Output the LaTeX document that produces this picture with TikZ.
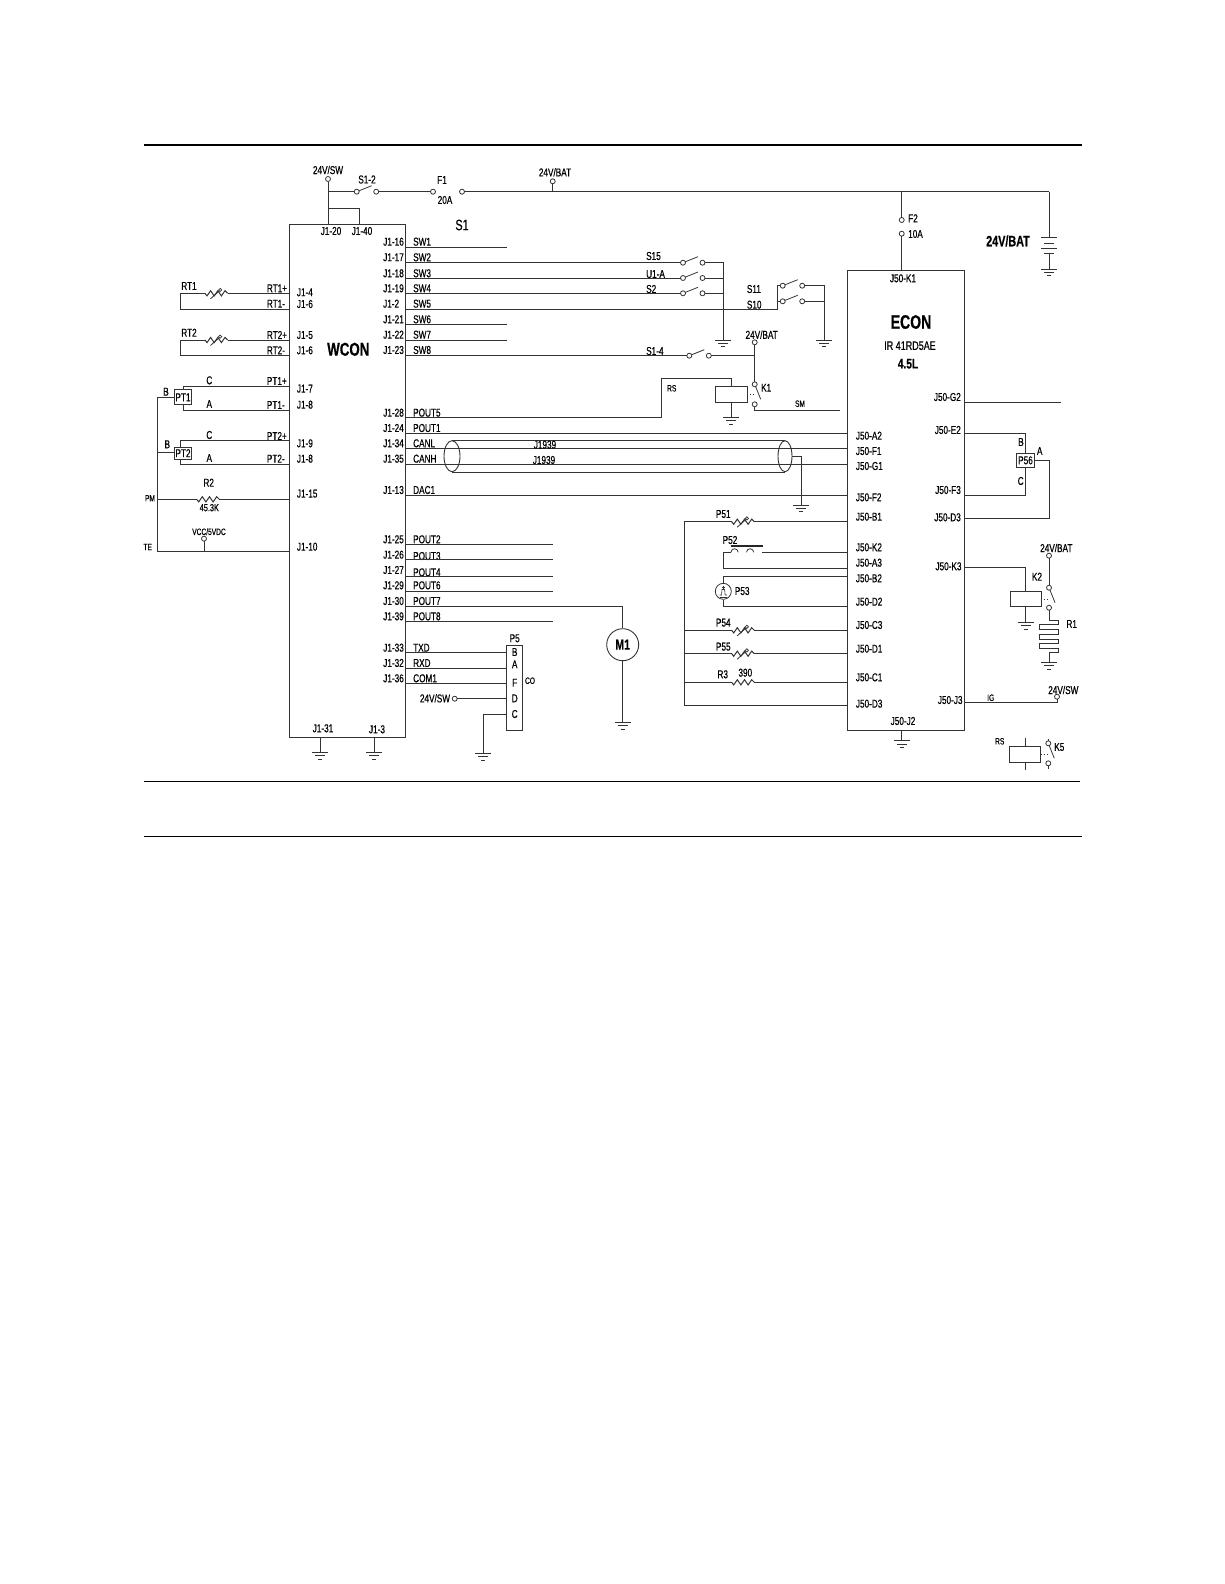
\documentclass[tikz,border=0pt]{standalone}
\usepackage{fontspec}
\usetikzlibrary{shapes.geometric}
\setmainfont{Liberation Sans}[FakeStretch=0.72,FakeBold=0.5]
\begin{document}
\begin{tikzpicture}[
       x=1pt, y=-1pt,
       ink/.style={black!80},
       wire/.style={ink, line width=1pt},
       rule/.style={black, line width=1.6pt},
       module/.style={rectangle, draw=black!80, line width=1pt, inner sep=0pt, outer sep=0pt},
       term/.style={circle, draw=black!80, line width=0.8pt, fill=white, inner sep=0pt, minimum size=5pt, outer sep=0pt},
       lbl/.style={inner sep=0pt, font=\fontsize{11.4}{13}\selectfont},
       lblsmall/.style={inner sep=0pt, font=\fontsize{9.2}{11}\selectfont},
       lblbig/.style={inner sep=0pt, font=\fontsize{15}{17}\selectfont\bfseries},
       pinl/.style={lbl, anchor=west},
       pinr/.style={lbl, anchor=east},
       gnd/.pic={
           \coordinate (-top) at (0,0);
           \draw[wire] (-8,0) -- (8,0);
           \draw[wire, line width=0.8pt] (-5,3.4) -- (5,3.4);
           \draw[wire, line width=0.8pt] (-2,6.8) -- (2,6.8);
       },
       res/.pic={
           \coordinate (-a) at (0,0);
           \coordinate (-b) at (22.6,0);
           \draw[wire] (-a) -- (2,2.6) -- (5.6,-2.6) -- (9.2,2.6) -- (12.8,-2.6) -- (16.4,2.6) -- (20,-2.6) -- (-b);
       },
       vres/.pic={
           \coordinate (-a) at (0,0);
           \coordinate (-b) at (22.6,0);
           \draw[wire] (-a) -- (2,2.6) -- (5.6,-2.6) -- (9.2,2.6) -- (12.8,-2.6) -- (16.4,2.6) -- (20,-2.6) -- (-b);
           \draw[wire, line width=0.8pt] (5.5,5.5) -- (14.5,-2.5);
           \draw[wire, line width=0.7pt] (15.2,-3.4) circle (1.6);
       },
       swt/.pic={
           \node[term] (-a) at (0,0) {};
           \node[term] (-b) at (19.5,0) {};
           \draw[wire, line width=0.8pt] (-a) -- (15,-6);
       },
       swv/.pic={
           \node[term] (-a) at (0,0) {};
           \node[term] (-b) at (0,20) {};
           \draw[wire, line width=0.8pt] (-a) -- (6,15);
       }
   ]
   \useasboundingbox (0,0) rectangle (1224,1584);

   \coordinate (ruleAl) at (144,145);
   \coordinate (ruleAr) at (1082,145);
   \coordinate (ruleBl) at (144,781.3);
   \coordinate (ruleBr) at (1080,781.3);
   \coordinate (ruleCl) at (144,836.7);
   \coordinate (ruleCr) at (1082,836.7);
   \draw[rule] (ruleAl) -- (ruleAr);
   \draw[rule, line width=1.1pt] (ruleBl) -- (ruleBr);
   \draw[rule, line width=1.1pt] (ruleCl) -- (ruleCr);

   \node[module, minimum width=116.4pt, minimum height=513pt] (wcon) at (347.5,480.5) {};
   \node[module, minimum width=116.7pt, minimum height=460pt] (econ) at (905.7,500) {};
   \node[lblbig, font=\fontsize{18.5}{20}\selectfont\bfseries] (wconname) at (348.3,349.3) {WCON};
   \node[lblbig, font=\fontsize{19.5}{21}\selectfont\bfseries] (econname) at (911,322) {ECON};
   \node[lblbig, font=\fontsize{12.5}{14}\selectfont] (econtype) at (910,345.7) {IR 41RD5AE};
   \node[lblbig, font=\fontsize{14}{16}\selectfont\bfseries] (econsize) at (908,363.7) {4.5L};
   \node[lblbig] (batname) at (1008,241) {24V/BAT};
   \node[lblbig, font=\fontsize{15}{17}\selectfont] (s1name) at (462,225) {S1};

   % supply rail
   \node[term] (swtop) at (328,179) {};
   \node[lbl] (swtoplbl) at (328,170) {24V/SW};
   \coordinate (swrail) at (328,191.7);
   \coordinate (link) at (328,208);
   \coordinate (linkr) at (359,208);
   \pic (s12) at (356.7,191.7) {swt};
   \node[term] (f1a) at (433,191.7) {};
   \node[term] (f1b) at (462,191.7) {};
   \coordinate (railr) at (1049,191.7);
   \node[lbl] (s12lbl) at (367,179.5) {S1-2};
   \node[lbl] (f1lbl) at (442,180) {F1};
   \node[lbl] (f1val) at (445,200) {20A};
   \node[term] (battop) at (552.7,181.3) {};
   \node[lbl] (battoplbl) at (555,172.3) {24V/BAT};
   \coordinate (batrail) at (552.7,191.7);
   \draw[wire] (swtop) -- (wcon.north -| swtop);
   \draw[wire] (swrail) -- (s12-a);
   \draw[wire] (s12-b) -- (f1a);
   \draw[wire] (f1b) -- (railr);
   \draw[wire] (link) -- (linkr) -- (wcon.north -| linkr);
   \draw[wire] (battop) -- (batrail);

   \node[term] (f2a) at (901.7,220) {};
   \node[term] (f2b) at (901.7,233.7) {};
   \node[pinl] (f2lbl) at (908,218.3) {F2};
   \node[pinl] (f2val) at (908,234) {10A};
   \coordinate (f2rail) at (901.7,191.7);
   \draw[wire] (f2rail) -- (f2a);
   \draw[wire] (f2b) -- (econ.north -| f2b);

   % battery
   \coordinate (batA) at (1049,237.7);
   \coordinate (batB) at (1049,253.3);
   \pic (gndbat) at (1049,269) {gnd};
   \draw[wire] (railr) -- (batA);
   \draw[wire] (batB) -- (gndbat-top);
   \draw[wire] (1041,237.7) -- (1057,237.7);
   \draw[wire] (1044,243.3) -- (1054,243.3);
   \draw[wire] (1041,248.7) -- (1057,248.7);
   \draw[wire] (1044,253.3) -- (1054,253.3);

   % WCON top and bottom pins
   \node[lbl] (j120) at (331,231) {J1-20};
   \node[lbl] (j140) at (362,231) {J1-40};
   \node[lbl] (j131) at (323,728.3) {J1-31};
   \node[lbl] (j13) at (377,729.3) {J1-3};
   \pic (gnd31) at (320.3,752.3) {gnd};
   \pic (gnd3) at (374.3,752.3) {gnd};
   \draw[wire] (wcon.south -| gnd31-top) -- (gnd31-top);
   \draw[wire] (wcon.south -| gnd3-top) -- (gnd3-top);

   % WCON left side
   \node[pinl] (j14) at (296.7,292.3) {J1-4};
   \node[pinl] (j16a) at (296.7,304) {J1-6};
   \node[pinl] (j15) at (296.7,335) {J1-5};
   \node[pinl] (j16b) at (296.7,350.3) {J1-6};
   \node[pinl] (j17) at (296.7,388.7) {J1-7};
   \node[pinl] (j18a) at (296.7,404.7) {J1-8};
   \node[pinl] (j19) at (296.7,443.3) {J1-9};
   \node[pinl] (j18b) at (296.7,458.7) {J1-8};
   \node[pinl] (j115) at (296.7,493.7) {J1-15};
   \node[pinl] (j110) at (296.7,546.7) {J1-10};

   \node[pinl] (rt1p) at (266.7,288.3) {RT1+};
   \node[pinl] (rt1m) at (266.7,303.7) {RT1-};
   \node[pinl] (rt2p) at (266.7,335) {RT2+};
   \node[pinl] (rt2m) at (266.7,350.3) {RT2-};
   \node[pinl] (pt1p) at (266.7,381) {PT1+};
   \node[pinl] (pt1m) at (266.7,405) {PT1-};
   \node[pinl] (pt2p) at (266.7,436) {PT2+};
   \node[pinl] (pt2m) at (266.7,458.7) {PT2-};

   \node[lbl] (rt1lbl) at (189,286) {RT1};
   \pic (rt1) at (205,293.3) {vres};
   \coordinate (rt1c) at (180.7,293.3);
   \coordinate (rt1d) at (180.7,309.3);
   \draw[wire] (rt1c) -- (rt1-a);
   \draw[wire] (rt1-b) -- (wcon.west |- rt1-b);
   \draw[wire] (rt1c) -- (rt1d) -- (wcon.west |- rt1d);

   \node[lbl] (rt2lbl) at (189,332.7) {RT2};
   \pic (rt2) at (205,340) {vres};
   \coordinate (rt2c) at (180.7,340);
   \coordinate (rt2d) at (180.7,355.7);
   \draw[wire] (rt2c) -- (rt2-a);
   \draw[wire] (rt2-b) -- (wcon.west |- rt2-b);
   \draw[wire] (rt2c) -- (rt2d) -- (wcon.west |- rt2d);

   \node[module, minimum width=17.4pt, minimum height=15.3pt, lbl] (pt1) at (183,397.3) {PT1};
   \node[module, minimum width=17.4pt, minimum height=12.3pt, lbl] (pt2) at (183,453.2) {PT2};
   \node[lbl] (pt1c) at (209.3,380.3) {C};
   \node[lbl] (pt1a) at (209.3,404) {A};
   \node[lbl] (pt1b) at (166,391.7) {B};
   \node[lbl] (pt2c) at (209.3,435) {C};
   \node[lbl] (pt2a) at (209.3,458) {A};
   \node[lbl] (pt2b) at (167.3,444.3) {B};
   \coordinate (pt1top) at (183,386.7);
   \coordinate (pt1bot) at (183,410);
   \coordinate (pt2top) at (180.7,440.7);
   \coordinate (pt2bot) at (180.7,464.3);
   \draw[wire] (pt1.north -| pt1top) -- (pt1top) -- (wcon.west |- pt1top);
   \draw[wire] (pt1.south -| pt1bot) -- (pt1bot) -- (wcon.west |- pt1bot);
   \draw[wire] (pt2.north -| pt2top) -- (pt2top) -- (wcon.west |- pt2top);
   \draw[wire] (pt2.south -| pt2bot) -- (pt2bot) -- (wcon.west |- pt2bot);

   \coordinate (bustop) at (157.3,397.3);
   \coordinate (busbot) at (157.3,551.7);
   \coordinate (buspt2) at (157.3,452.7);
   \coordinate (buspm) at (157.3,499.3);
   \draw[wire] (pt1.west) -- (bustop) -- (busbot) -- (wcon.west |- busbot);
   \draw[wire] (pt2.west |- buspt2) -- (buspt2);
   \pic (r2) at (196.7,499.3) {res};
   \draw[wire] (buspm) -- (r2-a);
   \draw[wire] (r2-b) -- (wcon.west |- r2-b);
   \node[lblsmall] (pmlbl) at (150,498.3) {PM};
   \node[lblsmall] (telbl) at (147.7,547) {TE};
   \node[lbl] (r2lbl) at (208.7,482.7) {R2};
   \node[lbl, font=\fontsize{10.2}{12}\selectfont] (r2val) at (209.3,507.7) {45.3K};
   \node[lblsmall] (vcclbl) at (209,531.7) {VCC/5VDC};
   \node[term] (vcc) at (204,538.7) {};
   \draw[wire] (vcc) -- (busbot -| vcc);

   % WCON right side
   \node[pinr] (j116) at (404,241.7) {J1-16};
   \node[pinr] (j117) at (404,257.3) {J1-17};
   \node[pinr] (j118) at (404,273.3) {J1-18};
   \node[pinr] (j119) at (404,288.3) {J1-19};
   \node[pinr] (j12) at (399.3,303.7) {J1-2};
   \node[pinr] (j121) at (404,319.3) {J1-21};
   \node[pinr] (j122) at (404,334.7) {J1-22};
   \node[pinr] (j123) at (404,350) {J1-23};
   \node[pinr] (j128) at (404,412.7) {J1-28};
   \node[pinr] (j124) at (404,428) {J1-24};
   \node[pinr] (j134) at (404,443.3) {J1-34};
   \node[pinr] (j135) at (404,458.7) {J1-35};
   \node[pinr] (j113) at (404,490) {J1-13};
   \node[pinr] (j125) at (404,539.3) {J1-25};
   \node[pinr] (j126) at (404,554.7) {J1-26};
   \node[pinr] (j127) at (404,570) {J1-27};
   \node[pinr] (j129) at (404,585.3) {J1-29};
   \node[pinr] (j130) at (404,601) {J1-30};
   \node[pinr] (j139) at (404,616.3) {J1-39};
   \node[pinr] (j133) at (404,647.7) {J1-33};
   \node[pinr] (j132) at (404,663) {J1-32};
   \node[pinr] (j136) at (404,678.3) {J1-36};

   \node[pinl] (sw1) at (413,241.7) {SW1};
   \node[pinl] (sw2) at (413,257.3) {SW2};
   \node[pinl] (sw3) at (413,273.3) {SW3};
   \node[pinl] (sw4) at (413,288.3) {SW4};
   \node[pinl] (sw5) at (413,303.7) {SW5};
   \node[pinl] (sw6) at (413,319.3) {SW6};
   \node[pinl] (sw7) at (413,334.7) {SW7};
   \node[pinl] (sw8) at (413,350) {SW8};
   \node[pinl] (pout5) at (413,412.7) {POUT5};
   \node[pinl] (pout1) at (413,428) {POUT1};
   \node[pinl] (canl) at (413,443.3) {CANL};
   \node[pinl] (canh) at (413,458.7) {CANH};
   \node[pinl] (dac1) at (413,490) {DAC1};
   \node[pinl] (pout2) at (413,539.3) {POUT2};
   \node[pinl] (pout3) at (413,556) {POUT3};
   \node[pinl] (pout4) at (413,572.3) {POUT4};
   \node[pinl] (pout6) at (413,585.3) {POUT6};
   \node[pinl] (pout7) at (413,601) {POUT7};
   \node[pinl] (pout8) at (413,616.3) {POUT8};
   \node[pinl] (txd) at (413,647.7) {TXD};
   \node[pinl] (rxd) at (413,663) {RXD};
   \node[pinl] (com1) at (413,678.3) {COM1};

   \coordinate (sw1e) at (506.7,247);
   \coordinate (sw6e) at (506.7,324.3);
   \coordinate (sw7e) at (506.7,340);
   \draw[wire] (wcon.east |- sw1e) -- (sw1e);
   \draw[wire] (wcon.east |- sw6e) -- (sw6e);
   \draw[wire] (wcon.east |- sw7e) -- (sw7e);

   \pic (s15) at (683,262.7) {swt};
   \pic (u1a) at (683,278) {swt};
   \pic (s2) at (683,293.3) {swt};
   \node[pinl] (s15lbl) at (646,256) {S15};
   \node[pinl] (u1albl) at (646,274) {U1-A};
   \node[pinl] (s2lbl) at (646,289) {S2};
   \pic (gndsw) at (723.3,340) {gnd};
   \coordinate (swbus) at (723.3,262.7);
   \draw[wire] (wcon.east |- s15-a) -- (s15-a);
   \draw[wire] (wcon.east |- u1a-a) -- (u1a-a);
   \draw[wire] (wcon.east |- s2-a) -- (s2-a);
   \draw[wire] (s15-b) -- (swbus) -- (gndsw-top);
   \draw[wire] (u1a-b) -- (u1a-b -| swbus);
   \draw[wire] (s2-b) -- (s2-b -| swbus);

   \pic (s11) at (782.7,285.7) {swt};
   \pic (s10) at (782.7,301.3) {swt};
   \node[pinl] (s11lbl) at (746.7,289) {S11};
   \node[pinl] (s10lbl) at (746.7,304.7) {S10};
   \coordinate (s5k) at (777.7,309.3);
   \coordinate (s5t) at (777.7,285.7);
   \coordinate (s10k) at (777.7,301.3);
   \coordinate (sbus) at (824.3,285.7);
   \pic (gnds) at (824.3,340) {gnd};
   \draw[wire] (wcon.east |- s5k) -- (s5k) -- (s5t) -- (s11-a);
   \draw[wire] (s10k) -- (s10-a);
   \draw[wire] (s11-b) -- (sbus) -- (gnds-top);
   \draw[wire] (s10-b) -- (s10-b -| sbus);

   \pic (s14) at (689.3,355.7) {swt};
   \node[pinl] (s14lbl) at (646,351) {S1-4};
   \node[term] (k1bat) at (754.7,342.3) {};
   \node[lbl] (k1batlbl) at (761.7,334.7) {24V/BAT};
   \pic (k1) at (754.7,384.3) {swv};
   \node[pinl] (k1lbl) at (761,387.7) {K1};
   \coordinate (k1out) at (754.7,410);
   \coordinate (k1end) at (840,410);
   \node[lblsmall] (smlbl) at (800,403.7) {SM};
   \draw[wire] (wcon.east |- s14-a) -- (s14-a);
   \draw[wire] (s14-b) -- (k1bat |- s14-b);
   \draw[wire] (k1bat) -- (k1-a);
   \draw[wire] (k1-b) -- (k1out) -- (k1end);

   \node[module, minimum width=31.3pt, minimum height=16pt] (k1coil) at (731.4,394.3) {};
   \coordinate (rsa) at (661.7,417.3);
   \coordinate (rsb) at (661.7,378.7);
   \coordinate (rsc) at (731.4,378.7);
   \node[lblsmall] (rslbl) at (671.7,388.3) {RS};
   \pic (gndk1) at (731.4,417.3) {gnd};
   \draw[wire] (wcon.east |- rsa) -- (rsa) -- (rsb) -- (rsc) -- (k1coil.north);
   \draw[wire] (k1coil.south) -- (gndk1-top);
   \draw[wire, dotted, line width=0.8pt] (k1coil.east) -- (k1-a |- k1coil.east);

   % J1939 bus
   \coordinate (p1a) at (445,433.3);
   \draw[wire] (wcon.east |- p1a) -- (econ.west |- p1a);
   \node[draw=black!80, ellipse, line width=0.9pt, inner sep=0pt, minimum width=16pt, minimum height=31pt] (shieldl) at (452,456.2) {};
   \node[draw=black!80, ellipse, line width=0.9pt, inner sep=0pt, minimum width=14pt, minimum height=31pt] (shieldr) at (785,456.2) {};
   \draw[wire] (shieldl.north) -- (shieldr.north);
   \draw[wire] (shieldl.south) -- (shieldr.south);
   \coordinate (canlw) at (445,448.3);
   \coordinate (canhw) at (445,464.3);
   \draw[wire] (wcon.east |- canlw) -- (econ.west |- canlw);
   \draw[wire] (wcon.east |- canhw) -- (econ.west |- canhw);
   \node[lbl] (j1939a) at (545,444.7) {J1939};
   \node[lbl] (j1939b) at (544,460) {J1939};
   \coordinate (shk) at (801,456.2);
   \pic (gndsh) at (801,505) {gnd};
   \draw[wire] (shieldr.east) -- (shk) -- (gndsh-top);
   \coordinate (dacw) at (445,495);
   \draw[wire] (wcon.east |- dacw) -- (econ.west |- dacw);

   % POUT stubs
   \coordinate (p2e) at (553,544.3);
   \coordinate (p3e) at (553,559.7);
   \coordinate (p4e) at (553,576);
   \coordinate (p6e) at (553,591);
   \coordinate (p8e) at (553,621.7);
   \draw[wire] (wcon.east |- p2e) -- (p2e);
   \draw[wire] (wcon.east |- p3e) -- (p3e);
   \draw[wire] (wcon.east |- p4e) -- (p4e);
   \draw[wire] (wcon.east |- p6e) -- (p6e);
   \draw[wire] (wcon.east |- p8e) -- (p8e);

   \node[circle, draw=black!80, line width=0.9pt, minimum size=32pt, inner sep=0pt, font=\fontsize{14.5}{16}\selectfont\bfseries] (m1) at (622.7,644.7) {M1};
   \coordinate (p7k) at (622.7,606.3);
   \pic (gndm1) at (622.7,722.3) {gnd};
   \draw[wire] (wcon.east |- p7k) -- (p7k) -- (m1.north);
   \draw[wire] (m1.south) -- (gndm1-top);

   % P5
   \node[module, minimum width=15.3pt, minimum height=85.3pt] (p5) at (514.4,687.7) {};
   \node[lbl] (p5lbl) at (514.7,638.3) {P5};
   \node[lbl] (p5b) at (514.7,652) {B};
   \node[lbl] (p5a) at (514.7,664.3) {A};
   \node[lbl] (p5f) at (514.7,682.7) {F};
   \node[lbl] (p5d) at (514.7,698.3) {D};
   \node[lbl] (p5c) at (514.7,714) {C};
   \node[lblsmall] (p5co) at (530,680.7) {CO};
   \coordinate (txdw) at (450,652.3);
   \coordinate (rxdw) at (450,668.3);
   \coordinate (comw) at (450,683.7);
   \draw[wire] (wcon.east |- txdw) -- (p5.west |- txdw);
   \draw[wire] (wcon.east |- rxdw) -- (p5.west |- rxdw);
   \draw[wire] (wcon.east |- comw) -- (p5.west |- comw);
   \node[lbl] (p5swlbl) at (435,698.3) {24V/SW};
   \node[term] (p5sw) at (454.7,698.7) {};
   \draw[wire] (p5sw) -- (p5.west |- p5sw);
   \coordinate (p5k) at (483.3,714.3);
   \pic (gndp5) at (483.3,753.3) {gnd};
   \draw[wire] (p5.west |- p5k) -- (p5k) -- (gndp5-top);

   % ECON left side
   \node[lbl] (j50k1) at (903,278.3) {J50-K1};
   \node[lbl] (j50j2) at (903,721) {J50-J2};
   \node[pinl] (j50a2) at (855.7,435.7) {J50-A2};
   \node[pinl] (j50f1) at (855.7,451) {J50-F1};
   \node[pinl] (j50g1) at (855.7,466) {J50-G1};
   \node[pinl] (j50f2) at (855.7,497.3) {J50-F2};
   \node[pinl] (j50b1) at (855.7,516.7) {J50-B1};
   \node[pinl] (j50k2) at (855.7,547.3) {J50-K2};
   \node[pinl] (j50a3) at (855.7,562.7) {J50-A3};
   \node[pinl] (j50b2) at (855.7,578.3) {J50-B2};
   \node[pinl] (j50d2) at (855.7,601.7) {J50-D2};
   \node[pinl] (j50c3) at (855.7,625) {J50-C3};
   \node[pinl] (j50d1) at (855.7,648.7) {J50-D1};
   \node[pinl] (j50c1) at (855.7,677.3) {J50-C1};
   \node[pinl] (j50d3a) at (855.7,703.7) {J50-D3};

   \coordinate (rbust) at (684.7,521.7);
   \coordinate (rbusb) at (684.7,705.3);
   \pic (p51) at (731.7,521.7) {vres};
   \pic (p54) at (731.7,630.3) {vres};
   \pic (p55) at (731.7,653.7) {vres};
   \pic (r3) at (731.7,682.3) {res};
   \node[lbl] (p51lbl) at (723.3,514) {P51};
   \node[lbl] (p54lbl) at (723.3,622.7) {P54};
   \node[lbl] (p55lbl) at (723.3,646.7) {P55};
   \node[lbl] (r3lbl) at (722.7,674.3) {R3};
   \node[lbl] (r3val) at (745.3,672.7) {390};
   \draw[wire] (p51-a) -- (rbust) -- (rbusb) -- (econ.west |- rbusb);
   \draw[wire] (p51-b) -- (econ.west |- p51-b);
   \draw[wire] (rbust |- p54-a) -- (p54-a);
   \draw[wire] (p54-b) -- (econ.west |- p54-b);
   \draw[wire] (rbust |- p55-a) -- (p55-a);
   \draw[wire] (p55-b) -- (econ.west |- p55-b);
   \draw[wire] (rbust |- r3-a) -- (r3-a);
   \draw[wire] (r3-b) -- (econ.west |- r3-b);

   \node[lbl] (p52lbl) at (730,540) {P52};
   \coordinate (p52a) at (723.3,552.3);
   \coordinate (p52b) at (723.3,568.3);
   \coordinate (p52c) at (762.3,552.3);
   \coordinate (p52d) at (731,552.3);
   \coordinate (p52e) at (746.5,552.3);
   \draw[wire] (p52d) -- (p52a) -- (p52b) -- (econ.west |- p52b);
   \draw[wire] (p52c) -- (econ.west |- p52c);
   \draw[wire, line width=0.8pt] (p52d) arc (180:360:3.6);
   \draw[wire, line width=0.8pt] (p52e) arc (180:360:3.6);
   \draw[black!85, line width=1.6pt] (731,546) -- (762.7,546);

   \node[circle, draw=black!80, line width=0.8pt, minimum size=16pt, inner sep=0pt] (p53) at (723.3,591.3) {};
   \node[pinl] (p53lbl) at (734.7,591) {P53};
   \coordinate (p53a) at (723.3,576);
   \coordinate (p53b) at (723.3,606.7);
   \draw[wire] (econ.west |- p53a) -- (p53a) -- (p53.north);
   \draw[wire] (p53.south) -- (p53b) -- (econ.west |- p53b);
   \draw[wire, line width=0.6pt] (723.3,585.5) -- (723.3,589) (721.5,587) -- (725.1,587);
   \draw[wire, line width=0.6pt] (719.5,595) -- (721.5,595) -- (722,589.5) -- (724.6,589.5) -- (725.1,595) -- (727.1,595);
   \draw[wire, line width=0.6pt] (719.5,597) -- (727.1,597);

   % ECON right side
   \node[pinr] (j50g2) at (961,397) {J50-G2};
   \node[pinr] (j50e2) at (961,430) {J50-E2};
   \node[pinr] (j50f3) at (961,490) {J50-F3};
   \node[pinr] (j50d3b) at (961,517.3) {J50-D3};
   \node[pinr] (j50k3) at (961.7,566.3) {J50-K3};
   \node[pinr] (j50j3) at (962.7,700) {J50-J3};

   \coordinate (g2e) at (1060.7,402.3);
   \draw[wire] (econ.east |- g2e) -- (g2e);

   \node[module, minimum width=17.6pt, minimum height=14pt, lbl] (p56) at (1025.5,460.3) {P56};
   \node[lbl] (p56b) at (1021,442) {B};
   \node[lbl] (p56a) at (1039.7,451) {A};
   \node[lbl] (p56c) at (1020.7,481) {C};
   \coordinate (e2k) at (1025.5,433);
   \coordinate (f3k) at (1025.5,495);
   \coordinate (d3t) at (1049.7,460.3);
   \coordinate (d3k) at (1049.7,518.3);
   \draw[wire] (econ.east |- e2k) -- (e2k) -- (p56.north);
   \draw[wire] (econ.east |- f3k) -- (f3k) -- (p56.south);
   \draw[wire] (p56.east) -- (d3t) -- (d3k) -- (econ.east |- d3k);

   \coordinate (k3k) at (1025.8,567.7);
   \node[module, minimum width=31pt, minimum height=15.4pt] (k2coil) at (1025.8,599) {};
   \node[lbl] (k2lbl) at (1037,576.7) {K2};
   \pic (gndk2) at (1025.8,622.3) {gnd};
   \draw[wire] (econ.east |- k3k) -- (k3k) -- (k2coil.north);
   \draw[wire] (k2coil.south) -- (gndk2-top);

   \node[term] (k2bat) at (1049,555.7) {};
   \node[lbl] (k2batlbl) at (1056.3,548) {24V/BAT};
   \pic (k2) at (1049,587.7) {swv};
   \draw[wire] (k2bat) -- (k2-a);
   \draw[wire, dotted, line width=0.8pt] (k2coil.east) -- (k2-a |- k2coil.east);

   \coordinate (r1a) at (1049,620);
   \coordinate (r1b) at (1049,652);
   \node[lbl] (r1lbl) at (1071.7,624) {R1};
   \pic (gndr1) at (1049,662.3) {gnd};
   \draw[wire] (k2-b) -- (r1a) -- (1058.7,620) -- (1058.7,624.7) -- (1039,624.7) -- (1039,629.7) -- (1058.7,629.7) -- (1058.7,634.5) -- (1039,634.5) -- (1039,639) -- (1058.7,639) -- (1058.7,643.5) -- (1039,643.5) -- (1039,648) -- (1058.7,648) -- (1058.7,652) -- (r1b) -- (gndr1-top);

   \node[term] (igsw) at (1057,696.7) {};
   \node[lbl] (igswlbl) at (1063.3,690) {24V/SW};
   \node[lblsmall] (iglbl) at (990.7,697.7) {IG};
   \coordinate (igk) at (1057,702.7);
   \draw[wire] (econ.east |- igk) -- (igk) -- (igsw);

   \pic (gndj2) at (901.7,740.7) {gnd};
   \draw[wire] (econ.south -| gndj2-top) -- (gndj2-top);

   % K5 legend
   \node[module, minimum width=31pt, minimum height=16pt] (k5coil) at (1025.2,754.3) {};
   \coordinate (k5t) at (1025.2,738.3);
   \coordinate (k5b) at (1025.2,770);
   \draw[wire] (k5t) -- (k5coil.north);
   \draw[wire] (k5coil.south) -- (k5b);
   \node[lblsmall] (k5rs) at (999.7,741.3) {RS};
   \node[lbl] (k5lbl) at (1059.3,747) {K5};
   \pic (k5) at (1048.3,743.3) {swv};
   \coordinate (k5u) at (1048.3,739);
   \coordinate (k5v) at (1048.3,769);
   \draw[wire] (k5u) -- (k5-a);
   \draw[wire] (k5-b) -- (k5v);
   \draw[wire, dotted, line width=0.8pt] (k5coil.east) -- (k5-a |- k5coil.east);
\end{tikzpicture}
\end{document}
